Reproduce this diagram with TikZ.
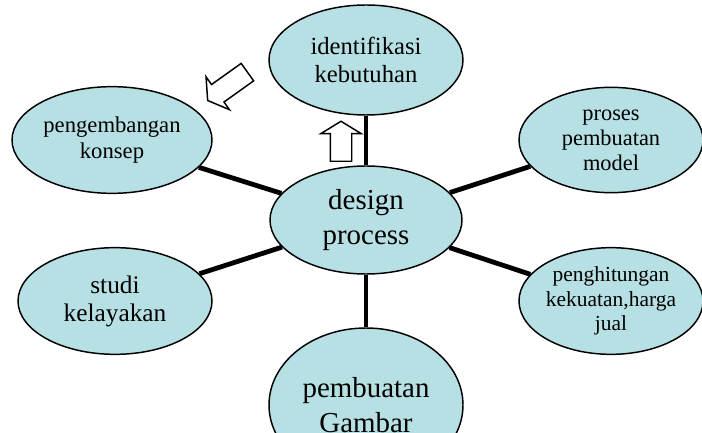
\documentclass[tikz,border=0pt]{standalone}
\usepackage{fontspec}
\setmainfont{Liberation Serif}
\usetikzlibrary{shapes.geometric,shapes.arrows}
\definecolor{bubblefill}{RGB}{183,224,228}
\tikzstyle{bubble}=[draw,ellipse,fill=bubblefill,line width=1.1pt,inner sep=0pt,align=center]
\tikzstyle{spoke}=[line width=3.6pt]
\tikzstyle{hollow}=[draw,single arrow,line width=1.1pt,fill=white,inner sep=7.5pt,single arrow head extend=7.1pt,single arrow tip angle=117,anchor=tail]

\begin{document}
\begin{tikzpicture}[x=0.75pt,y=0.75pt]
\useasboundingbox (0,0) rectangle (702,432);
% bubbles
\node [bubble,minimum width=144pt,minimum height=81pt,font={\fontsize{21.7}{26}\selectfont}] (design) at (366,212) {design\\process};
\node [bubble,minimum width=145.5pt,minimum height=82.5pt,font={\fontsize{18.5}{21}\selectfont}] (ident) at (366,372) {identifikasi\\kebutuhan};
\node [bubble,minimum width=150pt,minimum height=80pt,font={\fontsize{17}{20}\selectfont}] (konsep) at (112,292) {pengembangan\\konsep};
\node [bubble,minimum width=145.5pt,minimum height=80pt,font={\fontsize{19}{21}\selectfont}] (studi) at (115,131) {studi\\kelayakan};
\node [bubble,minimum width=138pt,minimum height=79pt,font={\fontsize{16.8}{18.8}\selectfont}] (model) at (611,292) {proses\\pembuatan\\model};
\node [bubble,minimum width=138pt,minimum height=80pt,font={\fontsize{16.1}{18.4}\selectfont}] (hitung) at (611,131) {penghitungan\\kekuatan,harga\\jual};
\node [bubble,minimum width=145.5pt,minimum height=115.5pt,font={\fontsize{21.7}{26}\selectfont}] (gambar) at (366,27) {pembuatan\\Gambar};
% spokes
\draw [spoke] (design) -- (ident);
\draw [spoke] (design) -- (konsep);
\draw [spoke] (design) -- (studi);
\draw [spoke] (design) -- (model);
\draw [spoke] (design) -- (hitung);
\draw [spoke] (design) -- (gambar);
% block arrows
\node [hollow,minimum height=30pt,rotate=90] (uparrow) at (341,270) {};
\node [hollow,minimum height=36.6pt,rotate=215.5] (leftarrow) at (248,360.3) {};
\end{tikzpicture}
\end{document}
